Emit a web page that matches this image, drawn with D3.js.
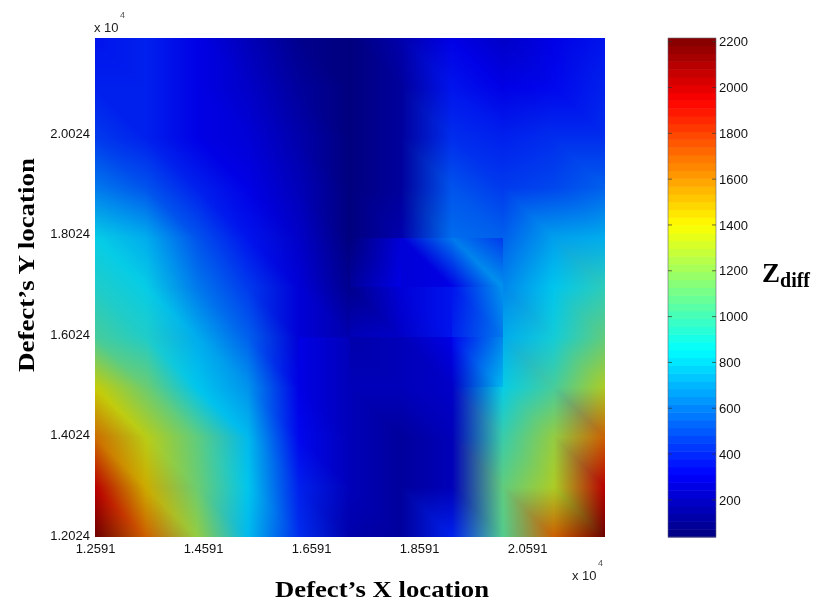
<!DOCTYPE html>
<html>
<head>
<meta charset="utf-8">
<script src="https://cdn.jsdelivr.net/npm/d3@7"></script>
<style>
  html, body { margin: 0; padding: 0; background: #fff; }
  #chart { position: relative; width: 817px; height: 607px; }
  #chart canvas, #chart svg { position: absolute; left: 0; top: 0; }
</style>
</head>
<body>
<div id="chart"></div>
<script>
// values at the grid nodes, top row first
const gridRows = [
  [350, 380, 300, 190, 100, 50, 150, 300, 240, 290, 350],
  [400, 390, 310, 230, 130, 45, 130, 360, 290, 340, 380],
  [470, 400, 310, 260, 150, 55, 110, 430, 380, 420, 430],
  [650, 520, 400, 300, 190, 60, 130, 530, 450, 500, 560],
  [880, 780, 520, 350, 220, 70, 160, 600, 550, 730, 770],
  [950, 880, 650, 470, 270, 100, 260, 350, 680, 830, 960],
  [1050, 950, 770, 560, 270, 160, 190, 300, 780, 900, 1120],
  [1380, 1150, 850, 700, 300, 190, 190, 230, 880, 1030, 1320],
  [1650, 1350, 1100, 800, 330, 190, 110, 190, 1020, 1250, 1700],
  [2000, 1500, 1150, 850, 380, 190, 130, 200, 1120, 1300, 2000],
  [2216, 1700, 1250, 820, 420, 170, 130, 400, 1060, 1680, 2216]
]
// cells that do not join their neighbours: col, row, tl, tr, br, bl
const cellPatches = [
  [4, 6, 300, 190, 190, 300],
  [5, 4, 70, 270, 300, 110],
  [6, 4, 270, 620, 300, 260],
  [7, 4, 620, 470, 700, 300],
  [5, 5, 100, 260, 220, 180],
  [6, 5, 260, 360, 350, 230],
  [7, 5, 350, 700, 640, 400],
  [6, 6, 190, 300, 220, 190],
  [7, 6, 330, 680, 820, 230]
]
const xTicks = [1.2591, 1.4591, 1.6591, 1.8591, 2.0591]
const yTicks = [1.2024, 1.4024, 1.6024, 1.8024, 2.0024]
const barTicks = [200, 400, 600, 800, 1000, 1200, 1400, 1600, 1800, 2000, 2200]
const jetStops = [0, 0.125, 0.375, 0.625, 0.875, 1]
const jetColors = ["#000080", "#0000ff", "#00ffff", "#ffff00", "#ff0000", "#800000"]
const zRange = [38, 2216]
const levels = 64

const width = 817, height = 607
const plot = {left: 95, right: 605, top: 38, bottom: 537}
const bar = {left: 668, right: 716}
// the surface reads duller than its colorbar
const gain = {r: 0.8, g: 0.8, b: 0.93}

const x = d3.scaleLinear().domain([1.2591, 2.2035]).range([plot.left, plot.right])
const y = d3.scaleLinear().domain([1.2024, 2.1955]).range([plot.bottom, plot.top])
const col = d3.scaleLinear().domain([0, 10]).range([plot.left, plot.right])
const row = d3.scaleLinear().domain([0, 10]).range([plot.top, plot.bottom])
const z = d3.scaleLinear().domain(zRange).range([plot.bottom, plot.top])
const jet = d3.scaleLinear().domain(jetStops).range(jetColors)
const tScale = d3.scaleLinear().domain(zRange).range([0, 1]).clamp(true)
const colorOf = v => {
  const level = Math.min(levels - 1, Math.floor(tScale(v) * levels))
  return d3.rgb(jet((level + 0.5) / levels))
}

const chart = d3.select("#chart")
const canvas = chart.append("canvas").attr("width", width).attr("height", height)
const ctx = canvas.node().getContext("2d")

const patchAt = new Map(cellPatches.map(p => [p[0] + "," + p[1], p.slice(2)]))
const cellCorners = (c, r) => patchAt.get(c + "," + r)
  || [gridRows[r][c], gridRows[r][c + 1], gridRows[r + 1][c + 1], gridRows[r + 1][c]]

// colours are mixed between corners per triangle, the quad is split along its \ diagonal
function shade() {
  const w = plot.right - plot.left, h = plot.bottom - plot.top
  const img = ctx.createImageData(w, h)
  const cached = new Map()
  for (let py = 0; py < h; py++) {
    const rf = row.invert(plot.top + py + 0.5)
    const r = Math.min(9, Math.floor(rf)), v = rf - r
    for (let px = 0; px < w; px++) {
      const cf = col.invert(plot.left + px + 0.5)
      const c = Math.min(9, Math.floor(cf)), u = cf - c
      const key = c + "," + r
      if (!cached.has(key)) cached.set(key, cellCorners(c, r).map(colorOf))
      const [tl, tr, br, bl] = cached.get(key)
      let a, b, d, wa, wb, wd
      if (u >= v) { a = tl; b = tr; d = br; wa = 1 - u; wb = u - v; wd = v }
      else { a = tl; b = bl; d = br; wa = 1 - v; wb = v - u; wd = u }
      const i = (py * w + px) * 4
      img.data[i] = (a.r * wa + b.r * wb + d.r * wd) * gain.r
      img.data[i + 1] = (a.g * wa + b.g * wb + d.g * wd) * gain.g
      img.data[i + 2] = (a.b * wa + b.b * wb + d.b * wd) * gain.b
      img.data[i + 3] = 255
    }
  }
  ctx.putImageData(img, plot.left, plot.top)
}
shade()

const svg = chart.append("svg").attr("width", width).attr("height", height)
  .attr("font-family", "'Liberation Sans', sans-serif")

const xAxis = svg.append("g")
  .attr("transform", `translate(0,${plot.bottom})`)
  .call(d3.axisBottom(x).tickValues(xTicks).tickSize(0).tickPadding(7).tickFormat(d3.format(".4f")))
const yAxis = svg.append("g")
  .attr("transform", `translate(${plot.left},-2)`)
  .call(d3.axisLeft(y).tickValues(yTicks).tickSize(0).tickPadding(5).tickFormat(d3.format(".4f")))
xAxis.select(".domain").remove()
yAxis.select(".domain").remove()
svg.selectAll("g text").attr("font-size", 13).attr("font-family", "'Liberation Sans', sans-serif").attr("fill", "#111")

// colorbar
const bandLevels = d3.range(levels)
const band = d3.scaleBand().domain(bandLevels).range([plot.bottom, plot.top])
svg.append("g").selectAll("rect")
  .data(bandLevels)
  .join("rect")
  .attr("x", bar.left)
  .attr("y", d => band(d))
  .attr("width", bar.right - bar.left)
  .attr("height", band.bandwidth() + 0.5)
  .attr("fill", d => jet((d + 0.5) / levels))
svg.append("rect")
  .attr("x", bar.left).attr("y", plot.top)
  .attr("width", bar.right - bar.left).attr("height", plot.bottom - plot.top)
  .attr("fill", "none").attr("stroke", "#667").attr("stroke-width", 0.6)

const barAxis = svg.append("g")
  .attr("transform", `translate(${bar.right},0)`)
  .call(d3.axisRight(z).tickValues(barTicks).tickSize(0).tickPadding(3).tickFormat(d3.format("d")))
barAxis.select(".domain").remove()
barAxis.selectAll("text").attr("font-size", 13).attr("font-family", "'Liberation Sans', sans-serif").attr("fill", "#111")
svg.append("g").selectAll("path")
  .data(barTicks)
  .join("path")
  .attr("d", d => `M${bar.left},${z(d)}h4M${bar.right - 4},${z(d)}h4`)
  .attr("stroke", "#333")
  .attr("stroke-width", 0.7)

// exponent labels
const exponent = (px, py) => {
  svg.append("text").attr("x", px).attr("y", py).attr("font-size", 13).attr("fill", "#222").text("x 10")
  svg.append("text").attr("x", px + 26).attr("y", py - 14).attr("font-size", 9).attr("fill", "#555").text("4")
}
exponent(94, 32)
exponent(572, 580)

// titles, the glyphs are stretched a little in the original
const serif = "'Liberation Serif', 'Times New Roman', serif"
svg.append("text")
  .attr("x", 382).attr("y", 597)
  .attr("text-anchor", "middle")
  .attr("font-family", serif).attr("font-weight", "bold").attr("font-size", 24)
  .attr("textLength", 214).attr("lengthAdjust", "spacingAndGlyphs")
  .text("Defect\u2019s X location")
svg.append("text")
  .attr("transform", "translate(34,265) rotate(-90)")
  .attr("text-anchor", "middle")
  .attr("font-family", serif).attr("font-weight", "bold").attr("font-size", 24)
  .attr("textLength", 214).attr("lengthAdjust", "spacingAndGlyphs")
  .text("Defect\u2019s Y location")
const zLabel = svg.append("text")
  .attr("x", 762).attr("y", 282)
  .attr("font-family", serif).attr("font-weight", "bold").attr("font-size", 27)
zLabel.append("tspan").text("Z")
zLabel.append("tspan").attr("dy", 5).attr("font-size", 20).text("diff")
</script>
</body>
</html>
